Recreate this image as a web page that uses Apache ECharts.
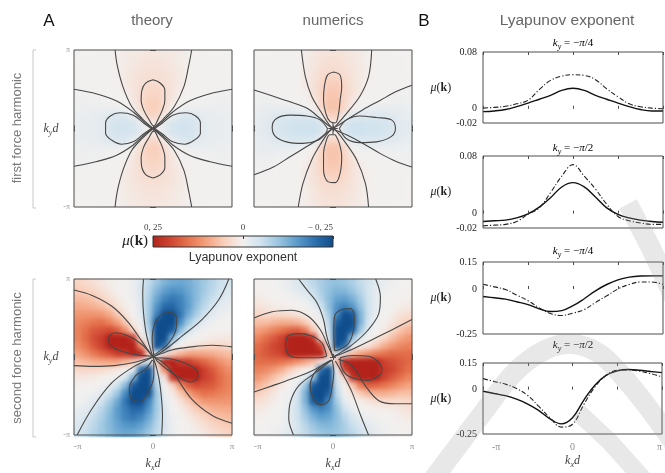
<!DOCTYPE html>
<html><head><meta charset="utf-8">
<script src="https://cdn.jsdelivr.net/npm/echarts@6/dist/echarts.min.js"></script>
<style>
html,body{margin:0;padding:0;background:#fff}
#stage{position:relative;width:665px;height:473px;background:#fff}
.layer{position:absolute;left:0;top:0;width:665px;height:473px}
</style>
</head><body>
<div id="stage">
  <div id="heatCrisp" class="layer"></div>
  <div id="heatSoft" class="layer" style="filter:blur(2.5px)"></div>
  <div id="main" class="layer"></div>
</div>
<script>
// ---------- DATA ----------
// heat-map cell centres, in units of pi (k d / pi)
const cellCentres = [-0.95,-0.85,-0.75,-0.65,-0.55,-0.45,-0.35,-0.25,-0.15,-0.05,0.05,0.15,0.25,0.35,0.45,0.55,0.65,0.75,0.85,0.95];
// Lyapunov exponent fields, rows from top (k_y d = +pi) to bottom, values in units of 0.01
const theoryFirstRows = [
[0,0,0,0,0,0.3,0.8,1.2,1.5,1.7,1.7,1.5,1.2,0.8,0.3,0,0,0,0,0],
[0,0,0,0,0,0.4,0.9,1.4,1.8,2.0,2.0,1.8,1.4,0.9,0.4,0,0,0,0,0],
[0,0,0,0,0,0.4,1.1,1.7,2.2,2.5,2.5,2.2,1.7,1.1,0.4,0,0,0,0,0],
[0,0,0,0,0,0.3,1.2,2.0,2.6,2.9,2.9,2.6,2.0,1.2,0.3,0,0,0,0,0],
[-0.1,-0.1,-0.1,0,0,0,1.2,2.0,2.8,3.6,3.6,2.8,2.0,1.2,0,0,0,-0.1,-0.1,-0.1],
[-0.4,-0.3,-0.1,0,0,0,0.6,1.8,3.1,4.3,4.3,3.1,1.8,0.6,0,0,0,-0.1,-0.3,-0.4],
[-0.6,-0.6,-0.5,-0.4,-0.2,0,0,1.5,3.3,5.0,5.0,3.3,1.5,0,0,-0.2,-0.4,-0.5,-0.6,-0.6],
[-0.8,-0.9,-1.0,-1.0,-1.0,-0.9,-0.5,0.2,3.0,5.2,5.2,3.0,0.2,-0.5,-0.9,-1.0,-1.0,-1.0,-0.9,-0.8],
[-1.1,-1.2,-1.4,-1.8,-2.8,-3.4,-3.2,-1.5,0.5,3.8,3.8,0.5,-1.5,-3.2,-3.4,-2.8,-1.8,-1.4,-1.2,-1.1],
[-1.2,-1.3,-1.6,-2.2,-3.5,-4.5,-4.5,-3.8,-2.0,0.5,0.5,-2.0,-3.8,-4.5,-4.5,-3.5,-2.2,-1.6,-1.3,-1.2],
[-1.2,-1.3,-1.6,-2.2,-3.5,-4.5,-4.5,-3.8,-2.0,0.5,0.5,-2.0,-3.8,-4.5,-4.5,-3.5,-2.2,-1.6,-1.3,-1.2],
[-1.1,-1.2,-1.4,-1.8,-2.8,-3.4,-3.2,-1.5,0.5,3.8,3.8,0.5,-1.5,-3.2,-3.4,-2.8,-1.8,-1.4,-1.2,-1.1],
[-0.8,-0.9,-1.0,-1.0,-1.0,-0.9,-0.5,0.2,3.0,5.2,5.2,3.0,0.2,-0.5,-0.9,-1.0,-1.0,-1.0,-0.9,-0.8],
[-0.6,-0.6,-0.5,-0.4,-0.2,0,0,1.5,3.3,5.0,5.0,3.3,1.5,0,0,-0.2,-0.4,-0.5,-0.6,-0.6],
[-0.4,-0.3,-0.1,0,0,0,0.6,1.8,3.1,4.3,4.3,3.1,1.8,0.6,0,0,0,-0.1,-0.3,-0.4],
[-0.1,-0.1,-0.1,0,0,0,1.2,2.0,2.8,3.6,3.6,2.8,2.0,1.2,0,0,0,-0.1,-0.1,-0.1],
[0,0,0,0,0,0.3,1.2,2.0,2.6,2.9,2.9,2.6,2.0,1.2,0.3,0,0,0,0,0],
[0,0,0,0,0,0.4,1.1,1.7,2.2,2.5,2.5,2.2,1.7,1.1,0.4,0,0,0,0,0],
[0,0,0,0,0,0.4,0.9,1.4,1.8,2.0,2.0,1.8,1.4,0.9,0.4,0,0,0,0,0],
[0,0,0,0,0,0.3,0.8,1.2,1.5,1.7,1.7,1.5,1.2,0.8,0.3,0,0,0,0,0]];
const numericsFirstRows = [
[0,0,0,0,0,0,0.6,1.4,2.0,2.3,2.3,2.0,1.5,1.0,0.3,0,0,0,0,0],
[0,0,0,0,0,0,0.8,1.6,2.4,2.8,2.8,2.4,1.7,1.1,0.4,0,0,0,0,0],
[0,0,0,0,0,0,0.9,1.9,2.8,3.2,3.2,2.8,2.0,1.2,0.4,0,0,0,0,0],
[0,0,0,0,0,0,1.0,2.1,3.4,4.5,4.5,3.3,2.2,1.2,0.4,0,0,0,0,0],
[0,0,0,0,0,0,1.0,2.3,4.0,5.5,5.5,4.0,2.4,1.2,0.2,0,0,0,0,-0.2],
[-0.4,-0.3,-0.1,0,0,0,0.4,2.2,4.2,6.0,6.0,4.2,2.5,0.9,0,0,0,-0.2,-0.4,-0.5],
[-0.7,-0.7,-0.6,-0.4,-0.1,0,0,1.2,4.0,6.5,6.5,4.0,1.6,0,0,-0.1,-0.4,-0.6,-0.7,-0.7],
[-1.2,-1.3,-1.4,-1.5,-1.4,-1.2,-0.7,0,3.5,6.5,6.5,3.5,0,-0.6,-1.2,-1.4,-1.5,-1.4,-1.3,-1.2],
[-1.6,-1.8,-2.4,-3.1,-3.3,-3.4,-3.3,-3.0,-1.0,4.5,4.5,-0.8,-2.5,-3.1,-3.3,-3.3,-3.2,-2.6,-1.9,-1.6],
[-1.8,-2.2,-3.3,-4.0,-4.5,-4.8,-5.0,-5.0,-4.0,0.5,0.5,-3.5,-4.8,-5.0,-4.8,-4.5,-4.2,-3.5,-2.3,-1.8],
[-1.8,-2.2,-3.3,-4.0,-4.5,-4.8,-5.0,-5.0,-4.0,0.5,0.5,-3.5,-4.8,-5.0,-4.8,-4.5,-4.2,-3.3,-2.2,-1.8],
[-1.6,-1.8,-2.3,-3.0,-3.3,-3.4,-3.3,-3.0,-1.0,4.0,4.0,-0.8,-2.8,-3.2,-3.3,-3.2,-3.0,-2.4,-1.8,-1.5],
[-1.3,-1.4,-1.5,-1.6,-1.5,-1.2,-0.4,0,3.8,6.5,6.5,3.8,0,-0.8,-1.1,-1.0,-0.9,-0.9,-0.8,-0.8],
[-1.0,-1.0,-0.9,-0.7,-0.4,0,0,1.4,4.2,6.5,6.5,4.2,1.5,0,0,0,-0.2,-0.4,-0.5,-0.6],
[-0.6,-0.5,-0.4,-0.1,0,0,0.6,2.3,4.3,6.0,6.0,4.3,2.5,0.8,0,0,0,0,-0.1,-0.3],
[-0.4,-0.2,0,0,0,0,1.0,2.4,4.0,5.5,5.5,4.0,2.4,1.1,0.3,0,0,0,0,0],
[-0.1,0,0,0,0,0,1.0,2.2,3.4,4.3,4.3,3.4,2.2,1.2,0.4,0,0,0,0,0],
[0,0,0,0,0,0,0.9,1.9,2.8,3.2,3.2,2.8,2.0,1.1,0.3,0,0,0,0,0],
[0,0,0,0,0,0,0.7,1.6,2.4,2.7,2.7,2.4,1.7,1.0,0.2,0,0,0,0,0],
[0,0,0,0,0,0.1,0.6,1.4,2.0,2.3,2.3,2.0,1.5,0.9,0.2,0,0,0,0,0]];
const theorySecondRows = [
[4.5,3.6,2.8,1.6,0.7,0.1,-0.1,-1.2,-3.3,-6.4,-9.4,-12.0,-13.3,-13.6,-12.8,-11.0,-9.1,-7.3,-5.5,-4.1],
[5.8,5.1,4.1,2.9,1.5,0.4,0,-0.9,-3.5,-7.1,-11.5,-14.5,-16.0,-15.5,-13.6,-11.3,-8.8,-6.7,-4.6,-3.2],
[7.4,7.0,6.1,4.6,2.9,1.2,0.1,-0.6,-3.2,-8.1,-13.6,-17.5,-19.0,-17.7,-14.5,-11.2,-8.0,-5.5,-3.6,-2.3],
[9.3,9.1,8.4,7.3,5.4,2.9,0.7,-0.1,-2.7,-8.8,-15.8,-20.5,-21.1,-18.2,-14.9,-10.4,-6.7,-4.1,-2.3,-1.3],
[11.2,11.5,11.5,11.0,9.1,5.8,2.3,0,-1.8,-8.8,-18.0,-28.1,-27.1,-19.3,-13.0,-8.4,-4.6,-2.3,-1.0,-0.4],
[12.8,13.8,14.8,15.4,13.5,10.3,5.9,1.0,-0.7,-8.9,-24.8,-31.4,-27.4,-16.6,-9.4,-4.9,-2.2,-0.7,-0.1,0],
[13.6,15.5,17.8,18.4,19.6,17.3,12.0,4.3,0,-7.0,-25.9,-31.6,-22.8,-10.9,-4.9,-1.6,-0.3,0,0.1,0.3],
[13.5,16.0,19.0,21.1,27.4,27.6,27.0,22.0,1.9,-4.4,-28.6,-28.3,-11.6,-3.3,-0.5,0,0.4,1.0,1.3,1.6],
[12.2,14.8,18.0,20.7,28.2,31.4,31.7,28.8,12.3,-0.6,-28.0,-20.0,-1.2,0.1,1.3,2.5,3.5,4.1,4.1,3.9],
[9.9,11.9,14.4,16.5,18.5,21.3,21.9,29.2,28.0,5.6,-5.2,1.2,5.5,8.0,9.8,9.9,9.6,9.0,8.0,7.0],
[7.0,8.0,9.0,9.6,9.9,9.8,8.0,5.5,1.2,-5.2,5.6,28.0,29.2,21.9,21.3,18.5,16.5,14.4,11.9,9.9],
[3.9,4.1,4.1,3.5,2.5,1.3,0.1,-1.2,-20.0,-28.0,-0.6,12.3,28.8,31.7,31.4,28.2,20.7,18.0,14.8,12.2],
[1.6,1.3,1.0,0.4,0,-0.5,-3.3,-11.6,-28.3,-28.6,-4.4,1.9,22.0,27.0,27.6,27.4,21.1,19.0,16.0,13.5],
[0.3,0.1,0,-0.3,-1.6,-4.9,-10.9,-22.8,-31.6,-25.9,-7.0,0,4.3,12.0,17.3,19.6,18.4,17.8,15.5,13.6],
[0,-0.1,-0.7,-2.2,-4.9,-9.4,-16.6,-27.4,-31.4,-24.8,-8.9,-0.7,1.0,5.9,10.3,13.5,15.4,14.8,13.8,12.8],
[-0.4,-1.0,-2.3,-4.6,-8.4,-13.0,-19.3,-27.1,-28.1,-18.0,-8.8,-1.8,0,2.3,5.8,9.1,11.0,11.5,11.5,11.2],
[-1.3,-2.3,-4.1,-6.7,-10.4,-14.9,-18.2,-21.1,-20.5,-15.8,-8.8,-2.7,-0.1,0.7,2.9,5.4,7.3,8.4,9.1,9.3],
[-2.3,-3.6,-5.5,-8.0,-11.2,-14.5,-17.7,-19.0,-17.5,-13.6,-8.1,-3.2,-0.6,0.1,1.2,2.9,4.6,6.1,7.0,7.4],
[-3.2,-4.6,-6.7,-8.8,-11.3,-13.6,-15.5,-16.0,-14.5,-11.5,-7.1,-3.5,-0.9,0,0.4,1.5,2.9,4.1,5.1,5.8],
[-4.1,-5.5,-7.3,-9.1,-11.0,-12.8,-13.6,-13.3,-12.0,-9.4,-6.4,-3.3,-1.2,-0.1,0.1,0.7,1.6,2.8,3.6,4.5]];
const numericsSecondRows = [
[0.1,0,-0.2,-0.8,-1.7,-3.2,-5.0,-6.7,-8.4,-9.8,-10.3,-9.6,-8.0,-6.1,-4.2,-2.6,-1.3,-0.6,-0.2,0],
[0.4,0.1,0,-0.35,-1.2,-2.1,-3.4,-5.4,-8.0,-10.3,-11.8,-11.5,-9.6,-7.0,-4.0,-1.9,-0.8,-0.2,0,0.1],
[1.2,0.5,0.1,0,-0.2,-0.6,-1.6,-3.7,-6.9,-10.8,-13.8,-14.4,-12.3,-8.5,-4.6,-1.8,-0.35,0,0.1,0.5],
[2.4,1.6,0.8,0.6,0.4,0,-0.15,-1.4,-4.8,-10.5,-15.9,-17.9,-15.3,-10.2,-5.0,-1.7,-0.2,0.1,0.7,1.4],
[4.2,3.4,3.5,3.5,3.0,2.0,0.7,0,-1.9,-8.5,-17.2,-26.3,-23.0,-11.9,-4.9,-1.2,0,0.6,2.2,3.0],
[7.0,7.0,8.0,8.8,8.5,7.9,5.6,1.9,-0.1,-6.5,-22.4,-30.2,-26.4,-12.0,-4.0,-0.4,0.1,1.6,3.7,5.4],
[10.0,11.6,13.4,15.1,16.6,17.3,14.2,6.1,0.3,-5.2,-25.2,-32.2,-22.8,-9.2,-1.8,0,1.2,3.6,6.2,8.3],
[13.2,15.5,17.9,20.4,28.2,29.8,25.4,22.5,3.2,-2.9,-27.8,-27.6,-10.0,-2.1,0,1.2,4.0,6.8,9.4,11.2],
[15.6,17.8,20.0,21.5,31.7,31.0,31.0,29.2,20.0,-0.1,-28.0,-20.0,-0.4,0.6,2.5,5.8,8.8,11.0,12.8,13.6],
[16.4,17.9,19.2,20.6,27.1,27.2,27.2,29.3,28.0,6.7,-4.8,2.1,7.0,9.6,11.8,13.9,15.1,16.0,15.8,15.6],
[15.6,15.8,16.0,15.1,13.9,11.8,9.6,7.0,2.1,-4.8,6.7,28.0,29.3,27.2,27.2,27.1,20.6,19.2,17.9,16.4],
[13.6,12.8,11.0,8.8,5.8,2.5,0.6,-0.4,-20.0,-28.0,-0.1,20.0,29.2,31.0,31.0,31.7,21.5,20.0,17.8,15.6],
[11.2,9.4,6.8,4.0,1.2,0,-2.1,-10.0,-27.6,-27.8,-2.9,3.2,22.5,25.4,29.8,28.2,20.4,17.9,15.5,13.2],
[8.3,6.2,3.6,1.2,0,-1.8,-9.2,-22.8,-32.2,-25.2,-5.2,0.3,6.1,14.2,17.3,16.6,15.1,13.4,11.6,10.0],
[5.4,3.7,1.6,0.1,-0.4,-4.0,-12.0,-26.4,-30.2,-22.4,-6.5,-0.1,1.9,5.6,7.9,8.5,8.8,8.0,7.0,7.0],
[3.0,2.2,0.6,0,-1.2,-4.9,-11.9,-23.0,-26.3,-17.2,-8.5,-1.9,0,0.7,2.0,3.0,3.5,3.5,3.4,4.2],
[1.4,0.7,0.1,-0.2,-1.7,-5.0,-10.2,-15.3,-17.9,-15.9,-10.5,-4.8,-1.4,-0.15,0,0.4,0.6,0.8,1.6,2.4],
[0.5,0.1,0,-0.35,-1.8,-4.6,-8.5,-12.3,-14.4,-13.8,-10.8,-6.9,-3.7,-1.6,-0.6,-0.2,0,0.1,0.5,1.2],
[0.1,0,-0.2,-0.8,-1.9,-4.0,-7.0,-9.6,-11.5,-11.8,-10.3,-8.0,-5.4,-3.4,-2.1,-1.2,-0.35,0,0.1,0.4],
[0,-0.2,-0.6,-1.3,-2.6,-4.2,-6.1,-8.0,-9.6,-10.3,-9.8,-8.4,-6.7,-5.0,-3.2,-1.7,-0.8,-0.2,0,0.1]];

// contour lines [k_x d/pi, k_y d/pi]
const contoursTheoryFirst = [
[[-0.48,1],[-0.45,0.79],[-0.38,0.53],[-0.27,0.28],[-0.13,0.12],[0,0]],
[[0.49,1],[0.45,0.79],[0.39,0.53],[0.27,0.28],[0.13,0.12],[0,0]],
[[-0.48,-1],[-0.45,-0.79],[-0.38,-0.53],[-0.27,-0.28],[-0.13,-0.12],[0,0]],
[[0.49,-1],[0.45,-0.79],[0.39,-0.53],[0.27,-0.28],[0.13,-0.12],[0,0]],
[[-1,0.5],[-0.71,0.44],[-0.46,0.35],[-0.25,0.21],[-0.12,0.09],[0,0]],
[[-1,-0.48],[-0.71,-0.42],[-0.46,-0.34],[-0.25,-0.21],[-0.12,-0.09],[0,0]],
[[1,0.5],[0.71,0.44],[0.46,0.35],[0.25,0.21],[0.12,0.09],[0,0]],
[[1,-0.48],[0.71,-0.42],[0.46,-0.34],[0.25,-0.21],[0.12,-0.09],[0,0]],
[[0,0.62],[0.09,0.58],[0.15,0.49],[0.15,0.36],[0.12,0.24],[0.07,0.13],[0.01,0.03],[-0.06,0.13],[-0.12,0.24],[-0.15,0.36],[-0.14,0.49],[-0.09,0.58],[0,0.62]],
[[0,-0.63],[0.09,-0.59],[0.15,-0.5],[0.15,-0.37],[0.12,-0.24],[0.07,-0.13],[0.01,-0.03],[-0.06,-0.13],[-0.12,-0.24],[-0.15,-0.37],[-0.14,-0.5],[-0.09,-0.59],[0,-0.63]],
[[-0.02,0],[-0.12,0.07],[-0.25,0.17],[-0.42,0.2],[-0.54,0.16],[-0.6,0.07],[-0.6,-0.06],[-0.52,-0.15],[-0.4,-0.2],[-0.25,-0.17],[-0.12,-0.07],[-0.02,0]],
[[0.02,0],[0.12,0.07],[0.25,0.17],[0.42,0.2],[0.54,0.16],[0.6,0.07],[0.6,-0.06],[0.52,-0.15],[0.4,-0.2],[0.25,-0.17],[0.12,-0.07],[0.02,0]]];
const contoursNumericsFirst = [
[[-0.4,1],[-0.35,0.66],[-0.27,0.41],[-0.14,0.19],[-0.05,0.05],[0,0]],
[[0.49,1],[0.45,0.66],[0.34,0.41],[0.17,0.19],[0.05,0.05],[0,0]],
[[-0.44,-1],[-0.38,-0.7],[-0.27,-0.4],[-0.14,-0.17],[-0.05,-0.04],[0,0]],
[[0.45,-1],[0.41,-0.7],[0.3,-0.4],[0.15,-0.17],[0.05,-0.04],[0,0]],
[[-1,0.49],[-0.755,0.41],[-0.544,0.34],[-0.333,0.26],[-0.165,0.13],[-0.05,0.03],[0,0]],
[[-1,-0.59],[-0.755,-0.49],[-0.544,-0.36],[-0.333,-0.23],[-0.165,-0.125],[-0.05,-0.03],[0,0]],
[[1,0.55],[0.8,0.47],[0.6,0.36],[0.38,0.24],[0.17,0.11],[0.05,0.03],[0,0]],
[[1,-0.49],[0.8,-0.42],[0.6,-0.32],[0.38,-0.19],[0.17,-0.08],[0.05,-0.03],[0,0]],
[[0.01,0.72],[0.09,0.68],[0.11,0.53],[0.09,0.36],[0.07,0.19],[0.03,0.07],[-0.04,0.09],[-0.09,0.19],[-0.12,0.36],[-0.11,0.53],[-0.07,0.68],[0.01,0.72]],
[[0.03,-0.08],[0.08,-0.19],[0.11,-0.36],[0.09,-0.57],[0.03,-0.69],[-0.06,-0.68],[-0.12,-0.53],[-0.12,-0.32],[-0.09,-0.17],[-0.04,-0.08],[0.03,-0.08]],
[[-0.07,0],[-0.165,0.11],[-0.33,0.16],[-0.54,0.17],[-0.71,0.13],[-0.77,0.02],[-0.73,-0.1],[-0.59,-0.17],[-0.38,-0.19],[-0.19,-0.15],[-0.09,-0.06],[-0.07,0]],
[[0.08,0],[0.17,0.11],[0.34,0.16],[0.55,0.14],[0.74,0.11],[0.79,0],[0.74,-0.1],[0.55,-0.17],[0.34,-0.18],[0.17,-0.13],[0.08,0]],
[[-0.06,0],[0.06,0]],
[[0,-0.07],[0,0.07]]];
const contoursTheorySecond = [
[[-1,0.86],[-0.77,0.79],[-0.52,0.65],[-0.31,0.44],[-0.14,0.2],[0,0]],
[[-0.12,1],[-0.13,0.81],[-0.12,0.56],[-0.08,0.27],[0,0]],
[[0.96,1],[0.83,0.73],[0.62,0.48],[0.37,0.27],[0.16,0.1],[0,0]],
[[1,0.13],[0.75,0.15],[0.49,0.13],[0.24,0.09],[0,0]],
[[-1,-0.11],[-0.75,-0.12],[-0.49,-0.11],[-0.24,-0.07],[0,0]],
[[0.11,-1],[0.12,-0.75],[0.09,-0.37],[0.05,-0.16],[0,0]],
[[-0.96,-1],[-0.77,-0.66],[-0.52,-0.33],[-0.27,-0.14],[-0.06,-0.03],[0,0]],
[[1,-0.85],[0.75,-0.75],[0.49,-0.54],[0.28,-0.24],[0.14,-0.08],[0,0]],
[[-0.01,0.01],[-0.14,0.16],[-0.31,0.27],[-0.48,0.31],[-0.56,0.25],[-0.55,0.16],[-0.44,0.09],[-0.22,0.03],[-0.01,0.01]],
[[0.03,-0.01],[0.2,-0.02],[0.41,-0.08],[0.56,-0.18],[0.57,-0.26],[0.47,-0.32],[0.33,-0.26],[0.18,-0.16],[0.05,-0.05],[0.03,-0.01]],
[[0.01,0.03],[-0.01,0.22],[0.01,0.39],[0.09,0.53],[0.22,0.57],[0.3,0.5],[0.29,0.35],[0.2,0.18],[0.05,0.05],[0.01,0.03]],
[[-0.01,-0.04],[-0.1,-0.16],[-0.22,-0.24],[-0.3,-0.41],[-0.27,-0.54],[-0.16,-0.57],[-0.06,-0.45],[0.01,-0.24],[0.01,-0.06],[-0.01,-0.04]]];
const contoursNumericsSecond = [
[[-1,0.5],[-0.77,0.58],[-0.52,0.6],[-0.31,0.52],[-0.16,0.35],[-0.08,0.18],[0,0]],
[[-0.435,1],[-0.33,0.86],[-0.2,0.69],[-0.12,0.48],[-0.08,0.27],[0,0]],
[[0.54,1],[0.6,0.77],[0.58,0.56],[0.43,0.33],[0.22,0.14],[0,0]],
[[1,0.48],[0.75,0.35],[0.45,0.2],[0.2,0.08],[0,0]],
[[-1,-0.45],[-0.77,-0.37],[-0.52,-0.28],[-0.27,-0.18],[-0.03,-0.04]],
[[-0.5,-1],[-0.56,-0.79],[-0.54,-0.58],[-0.435,-0.37],[-0.22,-0.2],[-0.03,-0.05]],
[[0.45,-1],[0.35,-0.75],[0.24,-0.45],[0.135,-0.24],[0.03,-0.05]],
[[1,-0.6],[0.79,-0.6],[0.58,-0.56],[0.41,-0.37],[0.24,-0.11],[0.07,-0.03]],
[[-0.08,0.01],[-0.14,0.18],[-0.27,0.27],[-0.44,0.3],[-0.57,0.27],[-0.6,0.14],[-0.54,0.01],[-0.35,-0.01],[-0.18,-0.01],[-0.08,0.01]],
[[0.09,-0.01],[0.24,0.02],[0.45,0.01],[0.58,-0.07],[0.62,-0.18],[0.58,-0.24],[0.45,-0.3],[0.28,-0.28],[0.16,-0.22],[0.1,-0.11],[0.09,-0.01]],
[[0.02,0.08],[0.01,0.31],[0.02,0.52],[0.09,0.6],[0.22,0.62],[0.27,0.52],[0.26,0.35],[0.2,0.18],[0.07,0.09],[0.02,0.08]],
[[-0.01,-0.04],[-0.14,-0.11],[-0.245,-0.22],[-0.29,-0.37],[-0.245,-0.54],[-0.16,-0.61],[-0.055,-0.56],[-0.01,-0.37],[0.01,-0.2],[-0.01,-0.04]]];

// panel B: mu(k) along k_x d (units of pi)
const kxLine = [-1,-0.875,-0.75,-0.625,-0.5,-0.375,-0.25,-0.125,0,0.125,0.25,0.375,0.5,0.625,0.75,0.875,1];
const firstQuarterTheory   = [-0.004,-0.003,-0.001,0.003,0.008,0.0135,0.019,0.026,0.029,0.026,0.019,0.0135,0.008,0.003,-0.001,-0.003,-0.003];
const firstQuarterNumerics = [0.001,0.002,0.0035,0.007,0.012,0.027,0.040,0.046,0.048,0.047,0.041,0.028,0.017,0.007,0.003,0.001,0.0];
const firstHalfTheory      = [-0.011,-0.010,-0.009,-0.006,-0.0005,0.009,0.022,0.037,0.043,0.037,0.023,0.008,-0.001,-0.006,-0.009,-0.011,-0.012];
const firstHalfNumerics    = [-0.017,-0.016,-0.015,-0.011,-0.001,0.008,0.029,0.052,0.068,0.052,0.034,0.013,-0.004,-0.010,-0.013,-0.015,-0.015];
const secondQuarterTheory  = [-0.042,-0.049,-0.056,-0.071,-0.087,-0.110,-0.125,-0.120,-0.093,-0.054,-0.010,0.025,0.051,0.066,0.072,0.073,0.073];
const secondQuarterNumerics= [0.026,0.012,-0.003,-0.034,-0.065,-0.105,-0.136,-0.147,-0.134,-0.114,-0.075,-0.038,0.000,0.025,0.039,0.039,0.026];
const secondHalfTheory     = [-0.009,-0.022,-0.034,-0.054,-0.081,-0.118,-0.165,-0.193,-0.158,-0.060,0.025,0.080,0.106,0.113,0.109,0.102,0.096];
const secondHalfNumerics   = [0.062,0.046,0.031,0.006,-0.033,-0.095,-0.160,-0.211,-0.195,-0.085,0.015,0.080,0.109,0.111,0.104,0.090,0.072];
const ticksFirst = [-0.02,0,0.08];
const ticksSecond = [-0.25,0,0.15];
const colorbarTicks = [0.25,0,-0.25];

// ---------- STYLE / LAYOUT ----------
const SERIF = "'Liberation Serif','DejaVu Serif',serif";
const SANS = "'Liberation Sans','Helvetica',Arial,sans-serif";
const palette = ['#0f4d8c','#2c6fad','#5a9bcb','#97c3df','#cfe2ee','#f2f0ef','#f9d2bf','#f3a27f','#e6754f','#cf4631','#b2221b'];
const FRAME = '#4d4d4d';
function makeRich(size, color){ return {
  i:{fontFamily:SERIF,fontStyle:'italic',fontSize:size,color:color,lineHeight:size+4,verticalAlign:'middle'},
  s:{fontFamily:SERIF,fontStyle:'italic',fontSize:Math.round(size*0.7),color:color,lineHeight:Math.round(size*0.7)+1,verticalAlign:'bottom'},
  n:{fontFamily:SERIF,fontSize:size,color:color,lineHeight:size+4,verticalAlign:'middle'},
  b:{fontFamily:SERIF,fontWeight:'bold',fontSize:size,color:color,lineHeight:size+4,verticalAlign:'middle'}
};}
const kxName='{i|k}{s|x}{i|d}', kyName='{i|k}{s|y}{i|d}', muName='{i|μ}{n|(}{b|k}{n|)}';
const piLabel = v => Math.abs(v+1)<1e-9 ? '-π' : (Math.abs(v)<1e-9 ? '0' : (Math.abs(v-1)<1e-9 ? 'π' : ''));

const panels = [
 {rows:theoryFirstRows, contours:contoursTheoryFirst, box:{left:74,top:50,width:158,height:157}, yLab:true, xLab:false},
 {rows:numericsFirstRows, contours:contoursNumericsFirst, box:{left:254,top:50,width:158,height:157}, yLab:false, xLab:false},
 {rows:theorySecondRows, contours:contoursTheorySecond, box:{left:74,top:279,width:158,height:158}, yLab:true, xLab:true},
 {rows:numericsSecondRows, contours:contoursNumericsSecond, box:{left:254,top:279,width:158,height:158}, yLab:false, xLab:true}
];
const linePlots = [
 {th:firstQuarterTheory, nu:firstQuarterNumerics, min:-0.02, max:0.08, step:0.02, shown:ticksFirst, box:{left:483,top:52,width:180,height:71}, title:'−π/4', ty:43, xLab:false},
 {th:firstHalfTheory, nu:firstHalfNumerics, min:-0.02, max:0.08, step:0.02, shown:ticksFirst, box:{left:483,top:156,width:180,height:72}, title:'−π/2', ty:148, xLab:false},
 {th:secondQuarterTheory, nu:secondQuarterNumerics, min:-0.25, max:0.15, step:0.05, shown:ticksSecond, box:{left:483,top:262,width:180,height:72}, title:'−π/4', ty:251, xLab:false},
 {th:secondHalfTheory, nu:secondHalfNumerics, min:-0.25, max:0.15, step:0.05, shown:ticksSecond, box:{left:483,top:363,width:180,height:71}, title:'−π/2', ty:345, xLab:true}
];

// ---------- HEAT-MAP LAYERS (crisp underneath, softened copy on top) ----------
function heatOption(){
  const grids=[], xs=[], ys=[], ser=[];
  panels.forEach((p,k)=>{
    grids.push(Object.assign({}, p.box));
    xs.push({type:'category', gridIndex:k, data:cellCentres.map(String), show:false});
    ys.push({type:'category', gridIndex:k, data:cellCentres.map(String), show:false});
    const data=[];
    p.rows.forEach((row,r)=>row.forEach((v,c)=>data.push([c, cellCentres.length-1-r, v*0.01])));
    ser.push({type:'heatmap', xAxisIndex:k, yAxisIndex:k, data:data, silent:true, progressive:0, itemStyle:{borderWidth:0}, emphasis:{disabled:true}});
  });
  return {animation:false, grid:grids, xAxis:xs, yAxis:ys, series:ser,
    visualMap:{type:'continuous', show:false, min:-0.25, max:0.25, dimension:2, inRange:{color:palette}}};
}
echarts.init(document.getElementById('heatCrisp'), null, {renderer:'canvas', width:665, height:473}).setOption(heatOption());
const soft = document.getElementById('heatSoft');
soft.style.clipPath = "path('" + panels.map(p=>`M${p.box.left} ${p.box.top}h${p.box.width}v${p.box.height}h${-p.box.width}Z`).join(' ') + "')";
echarts.init(soft, null, {renderer:'canvas', width:665, height:473}).setOption(heatOption());

// ---------- MAIN LAYER ----------
const grids=[], xAxes=[], yAxes=[], series=[];
const add = (arr,o)=>{arr.push(o); return arr.length-1;};
const tick = {show:true, inside:true, length:3, lineStyle:{color:FRAME, width:1}};
const noLine = {show:false};

panels.forEach(p=>{
  const go = add(grids, Object.assign({show:true, z:10, backgroundColor:'transparent', borderColor:FRAME, borderWidth:1}, p.box));
  const xo = add(xAxes, {type:'value', gridIndex:go, min:-1, max:1, interval:1, position:'bottom', z:10,
    axisLine:noLine, axisTick:tick, splitLine:noLine,
    axisLabel: p.xLab ? {show:true, formatter:piLabel, fontFamily:SERIF, fontSize:9, color:'#8a8a8a', margin:7, alignMinLabel:'left'} : {show:false},
    name: p.xLab ? kxName : '', nameLocation:'middle', nameGap:21, nameTextStyle:{rich:makeRich(12,'#444')}});
  add(xAxes, {type:'value', gridIndex:go, min:-1, max:1, interval:1, position:'top', z:10, axisLine:noLine, axisTick:tick, axisLabel:{show:false}, splitLine:noLine});
  const yo = add(yAxes, {type:'value', gridIndex:go, min:-1, max:1, interval:1, position:'left', z:10,
    axisLine:noLine, axisTick:tick, splitLine:noLine,
    axisLabel: p.yLab ? {show:true, formatter:v=>(Math.abs(v)<1e-9?'':piLabel(v)), fontFamily:SERIF, fontSize:8, color:'#9a9a9a', margin:4} : {show:false},
    name: p.yLab ? kyName : '', nameLocation:'middle', nameRotate:0, nameGap:6, nameTextStyle:{rich:makeRich(12,'#444')}});
  add(yAxes, {type:'value', gridIndex:go, min:-1, max:1, interval:1, position:'right', z:10, axisLine:noLine, axisTick:tick, axisLabel:{show:false}, splitLine:noLine});
  p.contours.forEach(c=>series.push({type:'line', xAxisIndex:xo, yAxisIndex:yo, data:c, smooth:0.35, symbol:'none', silent:true, z:3, clip:true, lineStyle:{color:'#474747', width:1.1}}));
});

linePlots.forEach(p=>{
  const g = add(grids, Object.assign({show:true, z:10, backgroundColor:'transparent', borderColor:FRAME, borderWidth:1}, p.box));
  const xb = add(xAxes, {type:'value', gridIndex:g, min:-1, max:1, interval:0.5, position:'bottom', z:10,
    axisLine:noLine, axisTick:tick, splitLine:noLine,
    axisLabel: p.xLab ? {show:true, formatter:v=>(Math.abs(v+1)<1e-9?'{m|-π}':piLabel(v)), fontFamily:SERIF, fontSize:10, color:'#8a8a8a', margin:8, alignMinLabel:'left', alignMaxLabel:'right', rich:{m:{fontFamily:SERIF,fontSize:10,color:'#8a8a8a',padding:[0,0,0,9]}}} : {show:false},
    name: p.xLab ? kxName : '', nameLocation:'middle', nameGap:19, nameTextStyle:{rich:makeRich(12,'#444')}});
  add(xAxes, {type:'value', gridIndex:g, min:-1, max:1, interval:0.5, position:'top', z:10, axisLine:noLine, axisTick:tick, axisLabel:{show:false}, splitLine:noLine});
  const yl = add(yAxes, {type:'value', gridIndex:g, min:p.min, max:p.max, interval:p.step, position:'left', z:10,
    axisLine:noLine, axisTick:{show:false}, splitLine:noLine,
    axisLabel:{show:true, formatter:v=>(p.shown.some(s=>Math.abs(s-v)<1e-9) ? String(+v.toFixed(2)) : ''), fontFamily:SERIF, fontSize:10, color:'#222', margin:6},
    name:muName, nameLocation:'middle', nameRotate:0, nameGap:30, nameTextStyle:{rich:makeRich(12,'#222')}});
  series.push({type:'line', xAxisIndex:xb, yAxisIndex:yl, data:kxLine.map((x,i)=>[x,p.th[i]]), smooth:0.4, symbol:'none', silent:true, z:3, lineStyle:{color:'#111', width:1.4}});
  series.push({type:'line', xAxisIndex:xb, yAxisIndex:yl, data:kxLine.map((x,i)=>[x,p.nu[i]]), smooth:0.4, symbol:'none', silent:true, z:3, lineStyle:{color:'#222', width:1.1, type:[5,2,1.2,2]}});
});

// colour bar
const cbStops = palette.slice().reverse().map((c,i,a)=>({offset:i/(a.length-1), color:c}));
const gcb = add(grids, {left:153, top:236, width:180, height:11, show:true, z:5, borderColor:'#333', borderWidth:1,
  backgroundColor:{type:'linear', x:0, y:0, x2:1, y2:0, colorStops:cbStops}});
add(xAxes, {type:'value', gridIndex:gcb, min:-0.25, max:0.25, interval:0.25, inverse:true, position:'top', z:10,
  axisLine:noLine, splitLine:noLine, axisTick:{show:true, inside:true, length:3, lineStyle:{color:'#333'}},
  axisLabel:{show:true, margin:4, fontFamily:SERIF, fontSize:9, color:'#444', alignMinLabel:'right',
    formatter:v=>{ if(!colorbarTicks.some(t=>Math.abs(t-v)<1e-9)) return ''; if(Math.abs(v)<1e-9) return '0'; return (v<0?'− ':'')+'0, 25'; }}});
add(yAxes, {type:'category', gridIndex:gcb, data:[''], axisLine:noLine, axisTick:{show:false}, axisLabel:{show:false},
  name:muName, nameLocation:'middle', nameRotate:0, nameGap:5, nameTextStyle:{rich:makeRich(15,'#222')}});

// ---------- TEXT & DECORATION ----------
function txt(text,x,y,font,fill,extra){ return Object.assign({type:'text', x:x, y:y, silent:true, z:20,
  style:{text:text, font:font, fill:fill, align:'center', verticalAlign:'middle', textAlign:'center', textVerticalAlign:'middle'}}, extra||{}); }
const WM = 'rgba(150,150,150,0.22)';
const graphics = [
  txt('A',49,21,'17px '+SANS,'#111'),
  txt('B',424,21,'17px '+SANS,'#111'),
  txt('theory',152,21,'15px '+SANS,'#666'),
  txt('numerics',333,21,'15px '+SANS,'#666'),
  txt('Lyapunov exponent',567,21,'15.5px '+SANS,'#666'),
  txt('Lyapunov exponent',243,258,'12.5px '+SANS,'#333'),
  txt('first force harmonic',17,128,'13px '+SANS,'#777',{rotation:Math.PI/2}),
  txt('second force harmonic',17,358,'13px '+SANS,'#777',{rotation:Math.PI/2}),
  {type:'polyline', silent:true, z:20, shape:{points:[[36,50],[33,50],[33,208],[36,208]]}, style:{stroke:'#c9c9c9', lineWidth:1, fill:null}},
  {type:'polyline', silent:true, z:20, shape:{points:[[36,279],[33,279],[33,437],[36,437]]}, style:{stroke:'#c9c9c9', lineWidth:1, fill:null}},
  {type:'polyline', silent:true, z:30, shape:{smooth:0.35, points:[[428,486],[455,450],[485,410],[515,372],[545,350],[572,344],[600,354],[626,380],[650,410],[676,446]]}, style:{stroke:WM, lineWidth:20, fill:null}},
  {type:'polyline', silent:true, z:30, shape:{points:[[578,412],[610,442],[644,480]]}, style:{stroke:WM, lineWidth:18, fill:null}},
  {type:'polyline', silent:true, z:30, shape:{points:[[628,204],[650,246],[676,302]]}, style:{stroke:WM, lineWidth:20, fill:null}}
];
linePlots.forEach(p=>{
  graphics.push({type:'text', x:573, y:p.ty, silent:true, z:20,
    style:{text:'{i|k}{s|y}{n| = '+p.title.replace('π','}{i|π}{n|')+'}', rich:makeRich(11,'#444'), align:'center', verticalAlign:'middle', textAlign:'center', textVerticalAlign:'middle'}});
});

const chart = echarts.init(document.getElementById('main'), null, {renderer:'canvas', width:665, height:473});
chart.setOption({
  animation:false,
  backgroundColor:'transparent',
  grid:grids, xAxis:xAxes, yAxis:yAxes,
  series:series,
  graphic:graphics
});
</script>
</body></html>
